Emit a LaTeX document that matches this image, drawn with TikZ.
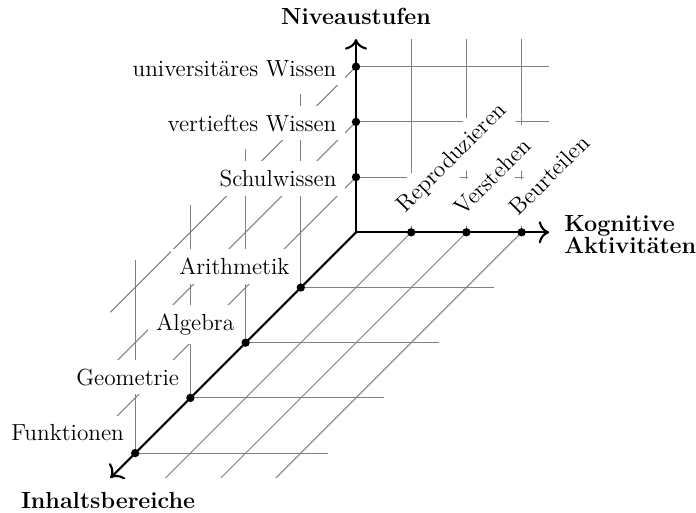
\documentclass[tikz,border=0pt]{standalone}
\usetikzlibrary{calc,arrows.meta}
\begin{document}
\begin{tikzpicture}[
  x=1cm, y=1cm,
  font=\fontsize{12}{14.5}\selectfont,
  gridline/.style={gray, line width=0.5pt},
  axisline/.style={line width=1.1pt, -{To[scale=1.35]}},
  dotmark/.style={circle, fill=black, inner sep=0pt, minimum size=4.3pt},
  levellabel/.style={fill=white, inner sep=4.5pt, anchor=base east},
  arealabel/.style={fill=white, inner sep=4.5pt, anchor=base east},
  activitylabel/.style={fill=white, inner sep=4.2pt, rotate=45, anchor=south west},
  axistitle/.style={font=\fontsize{12}{14.5}\selectfont\bfseries}
]
\useasboundingbox (-6.449,-5.067) rectangle (6.159,4.208);

% axes and tick positions
\coordinate (O) at (0,0);
\coordinate (X) at (3.5,0);
\coordinate (Y) at (0,3.5);
\coordinate (Z) at (-4.45,-4.45);
\foreach \i in {1,2,3} {
  \coordinate (x\i) at (\i,0);
  \coordinate (y\i) at (0,\i);
}
\foreach \k in {1,2,3,4} {
  \coordinate (z\k) at (-\k,-\k);
}

% grid on the three coordinate planes
\foreach \k in {1,2,3,4} {
  \draw[gridline] (z\k) -- ++(3.5,0);
  \draw[gridline] (z\k) -- ++(0,3.5);
}
\foreach \i in {1,2,3} {
  \draw[gridline] (x\i) -- ++(-4.45,-4.45);
  \draw[gridline] (x\i) -- ++(0,3.5);
  \draw[gridline] (y\i) -- ++(3.5,0);
  \draw[gridline] (y\i) -- ++(-4.45,-4.45);
}

% level labels
\node[levellabel] (l1) at ($(y1)+(-0.19,-0.17)$) {Schulwissen};
\node[levellabel] (l2) at ($(y2)+(-0.19,-0.17)$) {vertieftes Wissen};
\node[levellabel] (l3) at ($(y3)+(-0.19,-0.17)$) {universitäres Wissen};

% content area labels
\node[arealabel] (a1) at ($(z1)+(-0.04,0.23)$) {Arithmetik};
\node[arealabel] (a2) at ($(z2)+(-0.04,0.23)$) {Algebra};
\node[arealabel] (a3) at ($(z3)+(-0.04,0.23)$) {Geometrie};
\node[arealabel] (a4) at ($(z4)+(-0.04,0.23)$) {Funktionen};

% cognitive activity labels
\node[activitylabel] (c1) at ($(x1)+(-0.05,0.06)$) {Reproduzieren};
\node[activitylabel] (c2) at ($(x2)+(-0.05,0.06)$) {Verstehen};
\node[activitylabel] (c3) at ($(x3)+(-0.05,0.06)$) {Beurteilen};

% axes
\draw[axisline] (O) -- (Y);
\draw[axisline] (O) -- (X);
\draw[axisline] (O) -- (Z);

% tick dots
\foreach \i in {1,2,3} {
  \node[dotmark] (dx\i) at (x\i) {};
  \node[dotmark] (dy\i) at (y\i) {};
}
\foreach \k in {1,2,3,4} {
  \node[dotmark] (dz\k) at (z\k) {};
}

% axis titles
\node[axistitle, anchor=base] (ty) at (0,3.755) {Niveaustufen};
\node[axistitle, anchor=west, align=left] (tx) at (3.65,-0.04) {Kognitive\\[-3.3pt]Aktivitäten};
\node[axistitle, anchor=base] (tz) at (-4.49,-4.995) {Inhaltsbereiche};
\end{tikzpicture}
\end{document}
